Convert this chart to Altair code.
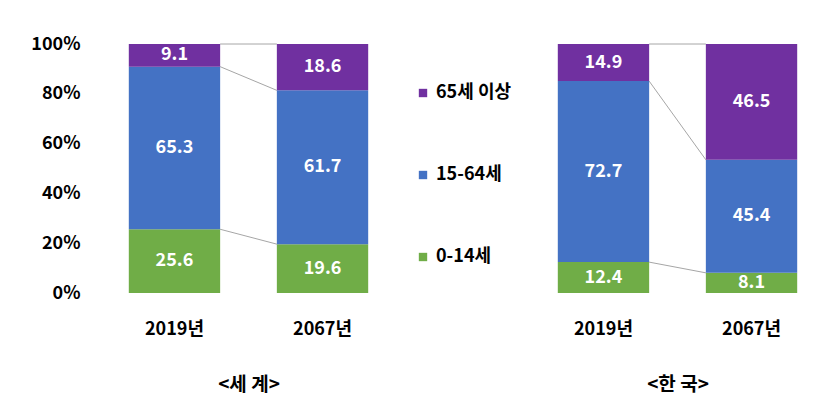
import altair as alt
import pandas as pd

years = ["2019년", "2067년"]
groups = ["0-14세", "15-64세", "65세 이상"]
colors = ["#70AD47", "#4472C4", "#7030A0"]
regions = ["<세 계>", "<한 국>"]

world_0_14 = [25.6, 19.6]
world_15_64 = [65.3, 61.7]
world_65 = [9.1, 18.6]

korea_0_14 = [12.4, 8.1]
korea_15_64 = [72.7, 45.4]
korea_65 = [14.9, 46.5]

series_by_region = {
    regions[0]: [world_0_14, world_15_64, world_65],
    regions[1]: [korea_0_14, korea_15_64, korea_65],
}

rows = []
conn_rows = []
for region, series in series_by_region.items():
    totals = [sum(s[i] for s in series) for i in range(2)]
    cum = [0.0, 0.0]
    for order, (g, vals) in enumerate(zip(groups, series)):
        for y, v in zip(years, vals):
            rows.append(dict(region=region, year=y, group=g, value=v, order=order))
        cum = [cum[i] + vals[i] for i in range(2)]
        conn_rows.append(dict(region=region, group=g, year=years[0], year2=years[1],
                              top1=cum[0] / totals[0], top2=cum[1] / totals[1]))
df = pd.DataFrame(rows)
conn = pd.DataFrame(conn_rows)

FONT = "Noto Sans CJK KR"
yscale = alt.Scale(domain=[0, 1], nice=False)
xscale = alt.Scale(domain=years, paddingInner=0.383, paddingOuter=0.1)


def xaxis():
    return alt.Axis(labelAngle=0, labelFont=FONT, labelFontSize=18, labelFontWeight="bold",
                    labelColor="black", labelPadding=27, titlePadding=37, titleFont=FONT,
                    titleFontSize=19, titleFontWeight="bold", titleColor="black",
                    domain=False, ticks=False, grid=False)


def yaxis(show_y):
    if not show_y:
        return None
    return alt.Axis(values=[0, 0.2, 0.4, 0.6, 0.8, 1], format=".0%", title=None,
                    labelFont=FONT, labelFontSize=18, labelFontWeight="bold",
                    labelColor="black", labelPadding=34, domain=False, ticks=False,
                    grid=False)


def panel(region, show_y, show_legend):
    pred = alt.FieldEqualPredicate(field="region", equal=region)
    legend = alt.Legend(orient="none", legendX=300, legendY=40, title=None,
                        labelFont=FONT, labelFontSize=18, labelFontWeight="bold",
                        labelColor="black", symbolType="square", symbolSize=70,
                        symbolStrokeWidth=0, rowPadding=64, labelOffset=4) if show_legend else None
    base = alt.Chart(df).transform_filter(pred).transform_stack(
        stack="value", groupby=["year"], as_=["y0", "y1"], offset="normalize",
        sort=[alt.SortField("order", order="ascending")])
    bars = base.mark_bar().encode(
        x=alt.X("year:N", title=region, scale=xscale, axis=xaxis()),
        y=alt.Y("y0:Q", scale=yscale, axis=yaxis(show_y), title=None),
        y2="y1:Q",
        color=alt.Color("group:N", scale=alt.Scale(domain=groups[::-1], range=colors[::-1]),
                        legend=legend),
    )
    labels = base.transform_calculate(mid="(datum.y0 + datum.y1) / 2").mark_text(
        color="white", font=FONT, fontWeight="bold", fontSize=18, baseline="middle"
    ).encode(
        x=alt.X("year:N", title=region, scale=xscale, axis=xaxis()),
        y=alt.Y("mid:Q", scale=yscale, axis=yaxis(show_y), title=None),
        text=alt.Text("value:Q", format=".1f"),
    )
    lines = alt.Chart(conn).transform_filter(pred).mark_rule(color="#A6A6A6", strokeWidth=1).encode(
        x=alt.X("year:N", title=region, scale=xscale, axis=xaxis(), bandPosition=1),
        x2=alt.X2("year2:N", bandPosition=0),
        y=alt.Y("top1:Q", scale=yscale, axis=yaxis(show_y), title=None),
        y2="top2:Q",
    )
    return alt.layer(lines, bars, labels).properties(width=269, height=249)


chart = alt.hconcat(
    panel(regions[0], True, True),
    panel(regions[1], False, False),
    spacing=160,
).properties(
    padding={"left": 30, "top": 35, "right": 5, "bottom": 5},
    background="white",
).configure_view(stroke=None)

chart.save("out.html", embed_options={"renderer": "svg", "actions": False})
